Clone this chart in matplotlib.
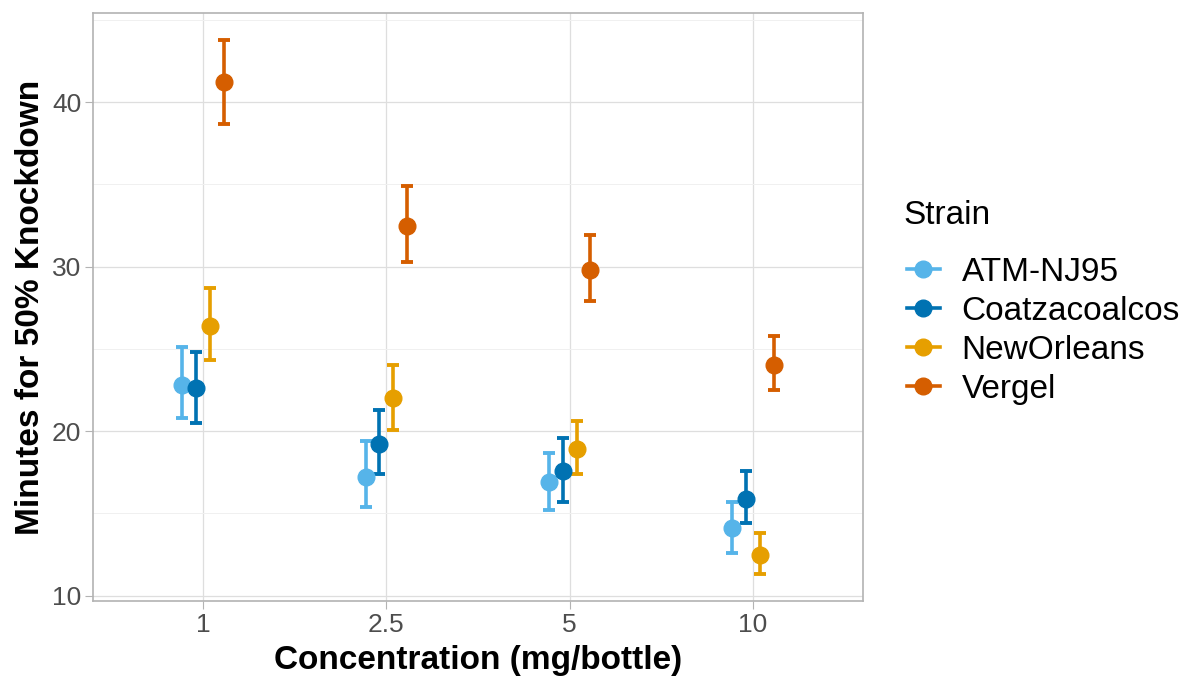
import numpy as np
import matplotlib
matplotlib.use("Agg")
import matplotlib.pyplot as plt
from matplotlib.lines import Line2D

plt.rcParams['font.family'] = ['Liberation Sans', 'DejaVu Sans']

concentrations = ['1', '2.5', '5', '10']
strains = ['ATM-NJ95', 'Coatzacoalcos', 'NewOrleans', 'Vergel']
colors = ['#56B4E9', '#0072B2', '#E69F00', '#D55E00']

# KT50 estimate with lower / upper limits, per strain, per concentration
kt50 = {
    'ATM-NJ95':      [22.8, 17.2, 16.9, 14.1],
    'Coatzacoalcos': [22.6, 19.2, 17.6, 15.9],
    'NewOrleans':    [26.4, 22.0, 18.9, 12.5],
    'Vergel':        [41.2, 32.5, 29.8, 24.0],
}
lower = {
    'ATM-NJ95':      [20.8, 15.4, 15.2, 12.6],
    'Coatzacoalcos': [20.5, 17.4, 15.7, 14.4],
    'NewOrleans':    [24.3, 20.1, 17.4, 11.3],
    'Vergel':        [38.7, 30.3, 27.9, 22.5],
}
upper = {
    'ATM-NJ95':      [25.1, 19.4, 18.7, 15.7],
    'Coatzacoalcos': [24.8, 21.3, 19.6, 17.6],
    'NewOrleans':    [28.7, 24.0, 20.6, 13.8],
    'Vergel':        [43.8, 34.9, 31.9, 25.8],
}

fig = plt.figure(figsize=(11.93, 6.76), dpi=100, facecolor='white')
ax = fig.add_axes([93/1193, 1 - 601/676, 770/1193, 588/676])

x = np.arange(len(concentrations))
dodge = 0.3
n = len(strains)
for i, s in enumerate(strains):
    off = -dodge/2 + dodge/n*(i + 0.5)
    y = np.array(kt50[s])
    yerr = [y - np.array(lower[s]), np.array(upper[s]) - y]
    ax.errorbar(x + off, y, yerr=yerr, fmt='o', color=colors[i],
                markersize=12, elinewidth=2.6, capsize=4, capthick=2.8,
                zorder=3)

lo = min(min(v) for v in lower.values())
hi = max(max(v) for v in upper.values())
pad = (hi - lo)*0.05
ax.set_ylim(lo - pad, hi + pad)
ax.set_xlim(-0.6, len(concentrations) - 0.4)

ax.set_xticks(x)
ax.set_xticklabels(concentrations)
ax.set_yticks([10, 20, 30, 40])
ax.set_yticks([15, 25, 35, 45], minor=True)
ax.tick_params(axis='both', which='major', labelsize=19, colors='#B3B3B3',
               labelcolor='#4D4D4D', length=5.5, width=0.8, pad=3)
ax.tick_params(axis='y', which='minor', length=0)
ax.grid(True, which='major', color='#DEDEDE', linewidth=0.9, zorder=0)
ax.grid(True, which='minor', axis='y', color='#F0F0F0', linewidth=0.7, zorder=0)
ax.set_axisbelow(True)
for sp in ax.spines.values():
    sp.set_color('#B3B3B3')
    sp.set_linewidth(1.2)

ax.set_xlabel('Concentration (mg/bottle)', fontsize=24, fontweight='bold', labelpad=6)
ax.set_ylabel('Minutes for 50% Knockdown', fontsize=24, fontweight='bold', labelpad=4)

# legend: title as separate text so the gap below it matches ggplot
fig.text(903/1193, 1 - 215/676, 'Strain', fontsize=24, ha='left', va='center')
handles = [Line2D([], [], color=c, marker='o', markersize=12, linewidth=2.6)
           for c in colors]
fig.legend(handles, strains, loc='upper left',
           bbox_to_anchor=(0.760, 1 - 257/676), frameon=False, fontsize=24,
           handlelength=1.0, handletextpad=0.65, labelspacing=0.24,
           borderpad=0, borderaxespad=0)

fig.savefig('out.png', dpi=100)
